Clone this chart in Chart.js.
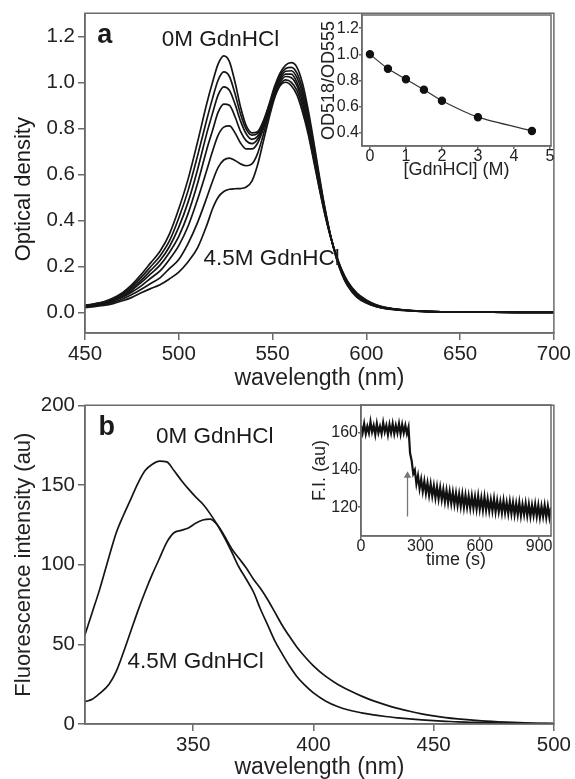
<!DOCTYPE html>
<html>
<head>
<meta charset="utf-8">
<script src="https://cdn.jsdelivr.net/npm/chart.js@4"></script>
<style>
  html, body { margin: 0; padding: 0; background: #fff; }
  #wrap { position: relative; width: 575px; height: 779px; overflow: hidden; }
  canvas { position: absolute; }
</style>
</head>
<body>
<div id="wrap">
  <canvas id="panelA" width="575" height="392" style="left:0;top:0"></canvas>
  <canvas id="panelB" width="575" height="387" style="left:0;top:392px"></canvas>
  <canvas id="insetA" width="275" height="190" style="left:300px;top:0"></canvas>
  <canvas id="insetB" width="275" height="190" style="left:300px;top:392px"></canvas>
</div>
<script>
// ---- panel a: absorption spectra at 0 ... 4.5 M GdnHCl ----
const absWavelength = [450, 455, 460, 465, 470, 475, 480, 485, 490, 495, 500, 505, 510, 515,
  518, 521, 524, 527, 530, 533, 536, 539, 542, 545, 548, 551, 554, 557, 560, 563, 566, 569,
  572, 575, 578, 581, 584, 587, 590, 595, 600, 605, 610, 620, 630, 640, 660, 680, 700];
const abs0M = [0.030, 0.037, 0.046, 0.062, 0.085, 0.12, 0.165, 0.215, 0.265, 0.34, 0.45, 0.58, 0.74, 0.91,
  1.0, 1.08, 1.115, 1.09, 1.0, 0.89, 0.81, 0.78, 0.785, 0.83, 0.9, 0.98, 1.04, 1.075, 1.085, 1.065, 0.995, 0.88,
  0.74, 0.59, 0.45, 0.33, 0.235, 0.165, 0.115, 0.065, 0.04, 0.025, 0.016, 0.008, 0.004, 0.002, 0.001, 0, 0];
const abs05M = [0.029, 0.036, 0.044, 0.059, 0.08, 0.112, 0.152, 0.198, 0.245, 0.31, 0.41, 0.53, 0.68, 0.84,
  0.93, 1.01, 1.045, 1.025, 0.95, 0.86, 0.795, 0.77, 0.778, 0.825, 0.895, 0.97, 1.03, 1.06, 1.065, 1.04, 0.97, 0.86,
  0.725, 0.58, 0.445, 0.33, 0.237, 0.168, 0.118, 0.068, 0.042, 0.026, 0.017, 0.008, 0.004, 0.002, 0.001, 0, 0];
const abs1M = [0.028, 0.035, 0.042, 0.056, 0.075, 0.104, 0.14, 0.182, 0.225, 0.285, 0.37, 0.48, 0.62, 0.78,
  0.865, 0.945, 0.98, 0.965, 0.905, 0.83, 0.775, 0.752, 0.765, 0.815, 0.89, 0.965, 1.02, 1.048, 1.05, 1.02, 0.95, 0.84,
  0.71, 0.57, 0.44, 0.33, 0.24, 0.171, 0.121, 0.071, 0.044, 0.027, 0.018, 0.009, 0.004, 0.002, 0.001, 0, 0];
const abs15M = [0.027, 0.033, 0.04, 0.053, 0.07, 0.096, 0.13, 0.167, 0.205, 0.26, 0.33, 0.43, 0.56, 0.71,
  0.79, 0.87, 0.905, 0.9, 0.85, 0.785, 0.745, 0.733, 0.752, 0.805, 0.88, 0.955, 1.01, 1.035, 1.035, 1.0, 0.93, 0.82,
  0.695, 0.56, 0.435, 0.33, 0.242, 0.174, 0.124, 0.074, 0.046, 0.028, 0.019, 0.009, 0.004, 0.002, 0.001, 0, 0];
const abs2M = [0.025, 0.031, 0.037, 0.049, 0.065, 0.088, 0.115, 0.148, 0.18, 0.23, 0.29, 0.375, 0.49, 0.62,
  0.7, 0.77, 0.805, 0.81, 0.78, 0.735, 0.71, 0.71, 0.735, 0.795, 0.87, 0.945, 1.0, 1.025, 1.02, 0.985, 0.91, 0.8,
  0.68, 0.55, 0.43, 0.328, 0.244, 0.177, 0.127, 0.077, 0.048, 0.03, 0.02, 0.01, 0.005, 0.002, 0.001, 0, 0];
const abs3M = [0.023, 0.028, 0.034, 0.044, 0.058, 0.077, 0.1, 0.125, 0.15, 0.19, 0.23, 0.3, 0.39, 0.5,
  0.57, 0.63, 0.662, 0.67, 0.66, 0.645, 0.637, 0.645, 0.69, 0.77, 0.86, 0.94, 0.99, 1.01, 1.0, 0.965, 0.89, 0.785,
  0.665, 0.54, 0.425, 0.326, 0.246, 0.18, 0.131, 0.08, 0.051, 0.032, 0.021, 0.01, 0.005, 0.002, 0.001, 0, 0];
const abs45M = [0.02, 0.025, 0.03, 0.038, 0.05, 0.065, 0.085, 0.103, 0.12, 0.145, 0.175, 0.22, 0.28, 0.38,
  0.45, 0.5, 0.525, 0.535, 0.537, 0.538, 0.545, 0.57, 0.64, 0.74, 0.84, 0.93, 0.985, 1.0, 0.985, 0.945, 0.87, 0.775,
  0.655, 0.535, 0.422, 0.325, 0.248, 0.183, 0.135, 0.083, 0.054, 0.034, 0.022, 0.011, 0.005, 0.002, 0.001, 0, 0];
const absTicksX = [450, 500, 550, 600, 650, 700];
const absTicksY = [0, 0.2, 0.4, 0.6, 0.8, 1.0, 1.2];

// ---- inset a: OD518/OD555 ratio ----
const gdnConc = [0, 0.5, 1, 1.5, 2, 3, 4.5];
const odRatio = [1.0, 0.89, 0.81, 0.73, 0.645, 0.52, 0.415];
const ratioTicksX = [0, 1, 2, 3, 4, 5];
const ratioTicksY = [0.4, 0.6, 0.8, 1.0, 1.2];

// ---- panel b: fluorescence spectra ----
const fluWavelength = [305, 308, 311, 315, 318, 321, 324, 327, 330, 333, 336, 339, 342, 345, 348, 351,
  354, 357, 360, 363, 366, 369, 372, 375, 378, 381, 384, 387, 390, 393, 396, 400, 405, 410, 415, 420,
  425, 430, 435, 440, 445, 450, 455, 460, 470, 480, 490, 500];
const flu0M = [56, 70, 84, 105, 120, 131, 141, 151, 159, 163, 165, 164.5, 159, 153, 147.5, 142.5,
  138, 132, 125, 117, 108, 98.5, 91, 83, 72, 62, 52, 44, 36.5, 30, 25, 19.5, 14.5, 11, 8.6, 7,
  5.7, 4.7, 3.9, 3.2, 2.6, 2.1, 1.7, 1.3, 0.9, 0.6, 0.4, 0.2];
const flu45M = [14, 15.5, 19, 25, 33, 45, 58, 71, 83, 94, 104, 114, 120, 121.5, 123, 126,
  128, 128.5, 125, 118, 110, 104, 98, 91, 85, 78, 70, 62, 55, 48.5, 43, 36.5, 30, 25, 21, 17.5,
  14.5, 12, 9.8, 8, 6.4, 5.1, 4, 3.2, 2, 1.2, 0.6, 0.3];
const fluTicksX = [350, 400, 450, 500];
const fluTicksY = [0, 50, 100, 150, 200];

// ---- inset b: fluorescence vs time, one reading every 8 s ----
const traceStep = 8;
const traceFI = [
  164, 160, 165, 159.5, 163.5, 160, 166, 160.5, 164, 159, 165, 160, 163.5, 159.5, 165.5, 160.5,
  164, 159, 164.5, 160, 165, 159.5, 164, 160, 165, 159.5, 164.5, 160, 164, 159.5, 163, 149,
  145, 138, 140, 132.5, 137, 130, 135, 128.5, 134, 127.5, 133, 126.5, 132.5, 126, 131.5, 125,
  131, 124.5, 130.5, 124, 129.5, 123, 129, 122.5, 128.5, 122, 128, 121.5, 127.5, 121, 127, 120.5,
  127, 120, 126.5, 120, 126, 119.5, 126, 119.5, 125.5, 119, 126, 119, 125, 118.5, 125.5, 118.5,
  124.5, 118, 124, 118, 124.5, 117.5, 123.5, 117.5, 123, 117, 123.5, 117, 122.5, 116.5, 123, 116.5,
  122.5, 116, 122, 116, 122.5, 115.5, 121.5, 116, 122, 115.5, 121.5, 115, 121, 115.5, 121.5, 115,
  121, 114.5, 120.5, 115, 121, 114.5, 120.5, 114.5, 120];
const arrowTime = 235;
const arrowFrom = 115;
const arrowTo = 137;
const traceTicksX = [0, 300, 600, 900];
const traceTicksY = [120, 140, 160];

const FONT = "'Liberation Sans', Arial, sans-serif";
const AXIS = '#6b6b6b';
const INK = '#151515';
Chart.defaults.font.family = FONT;
Chart.defaults.color = '#222';
Chart.defaults.animation = false;

// box round the plot area + free text placed in data units
Chart.register({
  id: 'notes',
  afterDraw(chart, args, opts) {
    const { ctx, chartArea: a, scales } = chart;
    ctx.save();
    ctx.strokeStyle = AXIS;
    ctx.lineWidth = 1.5;
    ctx.strokeRect(a.left, a.top, a.right - a.left, a.bottom - a.top);
    (opts.items || []).forEach(it => {
      ctx.save();
      ctx.font = it.font;
      ctx.fillStyle = '#1a1a1a';
      ctx.textAlign = 'center';
      ctx.textBaseline = 'middle';
      ctx.translate(scales.x.getPixelForValue(it.x), scales.y.getPixelForValue(it.y));
      if (it.rotate) ctx.rotate(it.rotate);
      ctx.fillText(it.text, 0, 0);
      ctx.restore();
    });
    ctx.restore();
  }
});

function xy(xs, ys) {
  return ys.map((v, i) => ({ x: xs[i], y: v }));
}

function axis(opts) {
  return {
    type: 'linear',
    min: opts.min,
    max: opts.max,
    afterBuildTicks: s => { s.ticks = opts.ticks.map(v => ({ value: v })); },
    afterFit: s => {
      if (opts.width) s.width = opts.width;
      if (opts.height) s.height = opts.height;
    },
    grid: { drawOnChartArea: false, drawTicks: true, tickLength: opts.tick, color: AXIS, lineWidth: 1.5 },
    border: { display: true, color: AXIS, width: 1.5 },
    ticks: {
      autoSkip: false,
      maxRotation: 0,
      padding: opts.pad,
      font: { size: opts.size, lineHeight: 1 },
      color: '#222',
      callback: opts.fmt || (v => v)
    },
    title: opts.title ? {
      display: true,
      text: opts.title,
      font: { size: opts.titleSize, lineHeight: 1 },
      color: '#222',
      padding: opts.titlePad
    } : { display: false }
  };
}

function curve(data, color, width) {
  return {
    data: data,
    borderColor: color,
    borderWidth: width,
    pointRadius: 0,
    fill: false,
    cubicInterpolationMode: 'monotone'
  };
}

// panel a
new Chart(document.getElementById('panelA'), {
  type: 'line',
  data: {
    datasets: [abs0M, abs05M, abs1M, abs15M, abs2M, abs3M, abs45M]
      .map(s => curve(xy(absWavelength, s), INK, 1.7))
  },
  options: {
    responsive: false,
    devicePixelRatio: 1,
    layout: { padding: { left: 0, top: 11, right: 20, bottom: 0 } },
    plugins: {
      legend: { display: false },
      tooltip: { enabled: false },
      notes: {
        items: [
          { text: 'a', x: 460.6, y: 1.204, font: 'bold 27px ' + FONT },
          { text: '0M GdnHCl', x: 522.3, y: 1.183, font: '22.5px ' + FONT },
          { text: '4.5M GdnHCl', x: 549.5, y: 0.233, font: '22.5px ' + FONT },
          { text: 'Optical density', x: 417.3, y: 0.535, font: '22px ' + FONT, rotate: -Math.PI / 2 }
        ]
      }
    },
    scales: {
      x: axis({ min: 450, max: 700, ticks: absTicksX, height: 59, tick: 7, pad: 4, size: 20.5,
        title: 'wavelength (nm)', titleSize: 23, titlePad: { top: 0, bottom: 2 } }),
      y: axis({ min: -0.09, max: 1.3, ticks: absTicksY, width: 85, tick: 7, pad: 3, size: 20.5,
        fmt: v => v.toFixed(1) })
    }
  }
});

// inset a
new Chart(document.getElementById('insetA'), {
  type: 'line',
  data: {
    datasets: [{
      data: xy(gdnConc, odRatio),
      borderColor: '#333',
      borderWidth: 1.2,
      pointRadius: 3.6,
      pointBackgroundColor: '#111',
      pointBorderColor: '#111',
      tension: 0.2
    }]
  },
  options: {
    responsive: false,
    devicePixelRatio: 1,
    layout: { padding: { left: 0, top: 15, right: 24, bottom: 0 } },
    plugins: { legend: { display: false }, tooltip: { enabled: false } },
    scales: {
      x: axis({ min: -0.22, max: 5.03, ticks: ratioTicksX, height: 44, tick: 3, pad: 0, size: 16,
        title: '[GdnHCl] (M)', titleSize: 18, titlePad: { top: 0, bottom: 11 } }),
      y: axis({ min: 0.3, max: 1.3, ticks: ratioTicksY, width: 62, tick: 3, pad: 0, size: 16,
        fmt: v => v.toFixed(1), title: 'OD518/OD555', titleSize: 18, titlePad: { top: 20, bottom: 0 } })
    }
  }
});

// panel b
new Chart(document.getElementById('panelB'), {
  type: 'line',
  data: {
    datasets: [flu0M, flu45M].map(s => curve(xy(fluWavelength, s), INK, 1.7))
  },
  options: {
    responsive: false,
    devicePixelRatio: 1,
    layout: { padding: { left: 0, top: 8, right: 20, bottom: 0 } },
    plugins: {
      legend: { display: false },
      tooltip: { enabled: false },
      notes: {
        items: [
          { text: 'b', x: 314, y: 186, font: 'bold 27px ' + FONT },
          { text: '0M GdnHCl', x: 359, y: 180.4, font: '22.5px ' + FONT },
          { text: '4.5M GdnHCl', x: 351, y: 38.9, font: '22.5px ' + FONT }
        ]
      }
    },
    scales: {
      x: axis({ min: 305, max: 500, ticks: fluTicksX, height: 55, tick: 7, pad: 4, size: 20.5,
        title: 'wavelength (nm)', titleSize: 23, titlePad: { top: 0, bottom: 0 } }),
      y: axis({ min: 0, max: 200, ticks: fluTicksY, width: 85, tick: 7, pad: 3, size: 20.5,
        title: 'Fluorescence intensity (au)', titleSize: 22, titlePad: { top: 13, bottom: 0 } })
    }
  }
});

// inset b
new Chart(document.getElementById('insetB'), {
  type: 'line',
  data: {
    datasets: [
      {
        data: traceFI.map((v, i) => ({ x: i * traceStep, y: v })),
        borderColor: '#111',
        borderWidth: 2.2,
        pointRadius: 0,
        tension: 0
      },
      {
        data: [{ x: arrowTime, y: arrowFrom }, { x: arrowTime, y: arrowTo }],
        borderColor: '#777',
        borderWidth: 1.3,
        pointRadius: [0, 3],
        pointStyle: 'triangle',
        pointBackgroundColor: '#777',
        pointBorderColor: '#777'
      }
    ]
  },
  options: {
    responsive: false,
    devicePixelRatio: 1,
    layout: { padding: { left: 0, top: 13, right: 24, bottom: 0 } },
    plugins: { legend: { display: false }, tooltip: { enabled: false } },
    scales: {
      x: axis({ min: 0, max: 960, ticks: traceTicksX, height: 46, tick: 3, pad: 0, size: 16,
        title: 'time (s)', titleSize: 18, titlePad: { top: 0, bottom: 13 } }),
      y: axis({ min: 104.5, max: 175, ticks: traceTicksY, width: 61, tick: 3, pad: 0, size: 16,
        title: 'F.I. (au)', titleSize: 18, titlePad: { top: 11, bottom: 0 } })
    }
  }
});
</script>
</body>
</html>
